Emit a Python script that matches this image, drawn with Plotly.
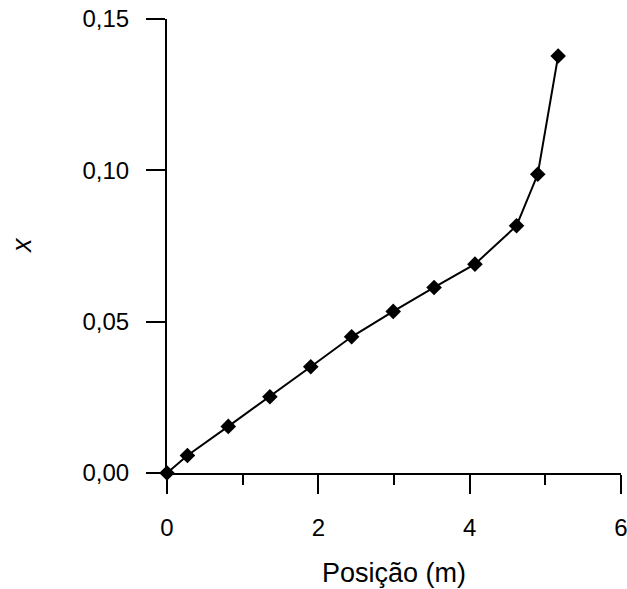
import plotly.graph_objects as go

posicao = [0.0, 0.27, 0.81, 1.36, 1.90, 2.44, 2.99, 3.53, 4.07, 4.62, 4.90, 5.17]
x_vals = [0.0, 0.0058, 0.0154, 0.0252, 0.0351, 0.0450, 0.0534, 0.0613, 0.0690, 0.0817, 0.0987, 0.1378]

x_ticks = [0, 2, 4, 6]
y_ticks = [0.0, 0.05, 0.10, 0.15]

FONT = "Liberation Sans, Arial, sans-serif"

fig = go.Figure()
fig.add_trace(go.Scatter(
    x=posicao, y=x_vals, mode="lines+markers",
    line=dict(color="black", width=2),
    marker=dict(symbol="diamond", size=12, color="black"),
    showlegend=False, cliponaxis=False,
))

fig.update_layout(
    width=627, height=589,
    margin=dict(l=167, r=6, t=19, b=116, autoexpand=False),
    paper_bgcolor="white", plot_bgcolor="white",
    separators=", ",
    font=dict(family=FONT, color="black", size=24),
    xaxis=dict(
        range=[0, 6.0005], tickvals=x_ticks, ticktext=[str(v) for v in x_ticks],
        showline=True, linecolor="black", linewidth=2,
        ticks="outside", ticklen=19, tickwidth=2, tickcolor="black",
        minor=dict(ticks="outside", ticklen=10, tickwidth=2, tickcolor="black",
                   tickvals=[1, 3, 5], showgrid=False),
        showgrid=False, zeroline=False, ticklabelstandoff=13,
        ticklabeloverflow="allow", automargin=False,
        tickfont=dict(size=24),
    ),
    yaxis=dict(
        range=[0, 0.15], tickvals=y_ticks, tickformat=".2f",
        showline=True, linecolor="black", linewidth=2,
        ticks="outside", ticklen=19, tickwidth=2, tickcolor="black",
        showgrid=False, zeroline=False, ticklabelstandoff=12,
        automargin=False,
        tickfont=dict(size=24),
    ),
    annotations=[
        dict(text="Posição (m)", xref="paper", yref="paper", x=0.5, y=-0.22,
             xanchor="center", yanchor="middle", showarrow=False,
             font=dict(size=27, family=FONT)),
        dict(text="<i>x</i>", xref="paper", yref="paper", x=0, xshift=-145, y=0.5,
             xanchor="center", yanchor="middle", showarrow=False, textangle=-90,
             font=dict(size=27, family=FONT)),
    ],
)

fig.write_html("out.html")
